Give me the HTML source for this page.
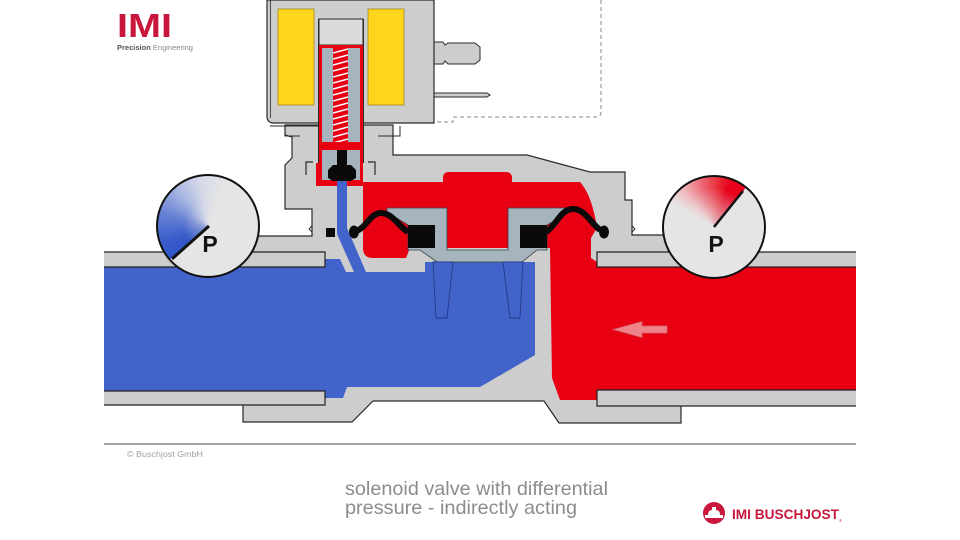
<!DOCTYPE html>
<html><head><meta charset="utf-8">
<style>
html,body{margin:0;padding:0;background:#fff;}
#wrap{position:relative;width:960px;height:540px;overflow:hidden;background:#fff;}
svg{display:block;position:absolute;left:0;top:0;}
.g{position:absolute;box-sizing:border-box;width:104px;height:104px;border:2.5px solid #111;border-radius:50%;}
#gl{left:156px;top:174px;background:radial-gradient(circle at 50% 50%, rgba(229,229,229,0.55) 0%, rgba(229,229,229,0) 35%),conic-gradient(from 180deg, #e5e5e5 0deg, #e5e5e5 49deg, #2f55c8 49deg, #3a5dcb 70deg, #6680d3 105deg, #a9b7e2 140deg, #d5d9e8 170deg, #e5e5e5 200deg, #e5e5e5 360deg);}
#gr{left:662px;top:175px;background:radial-gradient(circle at 50% 50%, rgba(229,229,229,0.85) 0%, rgba(229,229,229,0) 55%),conic-gradient(from 180deg, #e5e5e5 0deg, #e5e5e5 120deg, #f0bcc0 140deg, #ec6672 165deg, #e8202e 190deg, #e8001c 200deg, #e8001c 219deg, #e5e5e5 219deg, #e5e5e5 360deg);}
</style></head><body>
<div id="wrap">
<svg width="960" height="540" viewBox="0 0 960 540" xmlns="http://www.w3.org/2000/svg">
<defs>
<pattern id="sp" x="333" y="48" width="15" height="6" patternUnits="userSpaceOnUse">
<rect width="15" height="6" fill="#e80012"/>
<path d="M0,5 L15,1" stroke="#fff" stroke-width="1.5"/>
</pattern>
</defs>

<!-- dashed outline -->
<path d="M601,0 V112 Q601,117 596,117 H453 V122 H393" fill="none" stroke="#8a8a8a" stroke-width="1" stroke-dasharray="4,3"/>

<!-- connector -->
<path d="M434,42 H443 L445,45 L448,43 H475 L480,47 V60 L475,64 H448 L445,61 L443,64 H434 Z" fill="#cdcdcd" stroke="#2a2a2a" stroke-width="1"/>
<path d="M434,93 H487 L490,95 L487,97 H434 Z" fill="#cdcdcd" stroke="#2a2a2a" stroke-width="1"/>

<!-- coil housing -->
<path d="M267,0 H434 V123 H274 Q267,123 267,116 Z" fill="#cdcdcd" stroke="#2a2a2a" stroke-width="1.2"/>
<line x1="270.5" y1="0" x2="270.5" y2="118" stroke="#2a2a2a" stroke-width="0.8"/>

<!-- valve body -->
<path d="M285,125 H393 V155 H527 L590,172 H625 V200 H632 V235 H681 V423 H559 L544,401 H373 L352,422 H243 V236 H312 V209 H285 V165 L292,158 V137 L285,135 Z" fill="#cdcdcd" stroke="#2a2a2a" stroke-width="1.2"/>
<path d="M270,126 H320 M285,126 V136 H300 M378,136 H400 V126" fill="none" stroke="#2a2a2a" stroke-width="1"/>
<path d="M632,226 L635,229 L632,232" fill="none" stroke="#2a2a2a" stroke-width="1"/>
<path d="M312,226 L309,229 L312,232" fill="none" stroke="#2a2a2a" stroke-width="1"/>

<!-- yellow coils -->
<rect x="278" y="9" width="36" height="96" fill="#ffd51c" stroke="#a08a20" stroke-width="0.8"/>
<rect x="368" y="9" width="36" height="96" fill="#ffd51c" stroke="#a08a20" stroke-width="0.8"/>

<!-- plunger tube -->
<rect x="319" y="19" width="44" height="26" fill="#dadada" stroke="#2a2a2a" stroke-width="1"/>
<rect x="319" y="45" width="44" height="120" fill="#e80012"/>
<rect x="316" y="163" width="47" height="23" fill="#e80012"/>
<rect x="322" y="48" width="38" height="94" fill="#a6b4bd"/>
<rect x="322" y="150" width="38" height="30" fill="#a6b4bd"/>
<rect x="333" y="48" width="15" height="100" fill="url(#sp)"/>
<rect x="322" y="142" width="38" height="8" fill="#e80012"/>
<line x1="318.5" y1="19" x2="318.5" y2="163" stroke="#2a2a2a" stroke-width="1"/>
<line x1="363.5" y1="19" x2="363.5" y2="163" stroke="#2a2a2a" stroke-width="1"/>
<path d="M306,175 V162 H313 M375,175 V162 H368" fill="none" stroke="#2a2a2a" stroke-width="1.2"/>

<!-- red high pressure region -->
<path d="M363,182 H443 V178 Q443,172 449,172 H506 Q512,172 512,178 V182 H580 Q592,195 597,228 L591,238 V258 L597,262 V267 H856 V390 H597 V400 H560 L552,378 L550,248 H410 L406,258 H373 Q363,258 363,248 Z" fill="#e80012"/>

<!-- blue low pressure region -->
<path d="M104,267 H325 V259 H340 L346,272 H425 V262 H535 V355 L480,387 H347 L343,398 H325 V391 H104 Z" fill="#4263c9"/>
<path d="M337,181 H347 V228 L366,272 H354 L337,234 Z" fill="#4263c9"/>

<!-- piston -->
<path d="M387,208 H447 V250 H508 V208 H570 V212 L547,225 V250 H537 L522,262 H437 L420,250 H408 V225 L387,212 Z" fill="#a6b4bd" stroke="#3a4248" stroke-width="0.8"/>
<rect x="408" y="225" width="27" height="23" fill="#0a0a0a"/>
<rect x="520" y="225" width="27" height="23" fill="#0a0a0a"/>

<!-- diaphragm -->
<path d="M408,232 C398,226 392,212 380,213 C370,214 366,228 356,231" fill="none" stroke="#0a0a0a" stroke-width="6"/>
<ellipse cx="354" cy="232" rx="5" ry="6.5" fill="#0a0a0a"/>
<path d="M546,232 C556,226 560,210 572,209 C584,208 590,222 600,230" fill="none" stroke="#0a0a0a" stroke-width="6"/>
<ellipse cx="604" cy="232" rx="5" ry="6.5" fill="#0a0a0a"/>
<rect x="326" y="228" width="9" height="9" fill="#0a0a0a"/>

<!-- guide fingers -->
<path d="M433,262 H453 L447,318 H436 Z" fill="#4263c9" stroke="#24388a" stroke-width="0.9"/>
<path d="M503,262 H523 L520,318 H510 Z" fill="#4263c9" stroke="#24388a" stroke-width="0.9"/>

<!-- nozzle -->
<rect x="337" y="150" width="10" height="17" fill="#0a0a0a"/>
<path d="M328,170 L333,165 H351 L356,170 V178 L351,181 H333 L328,178 Z" fill="#0a0a0a"/>

<!-- pipe walls -->
<rect x="104" y="252" width="221" height="15" fill="#cdcdcd"/>
<path d="M104,252 H325 V267 H104" fill="none" stroke="#222" stroke-width="1.2"/>
<rect x="104" y="391" width="221" height="14" fill="#cdcdcd"/>
<path d="M104,391 H325 V405 H104" fill="none" stroke="#222" stroke-width="1.2"/>
<rect x="597" y="252" width="259" height="15" fill="#cdcdcd"/>
<path d="M856,252 H597 V267 H856" fill="none" stroke="#222" stroke-width="1.2"/>
<rect x="597" y="390" width="259" height="16" fill="#cdcdcd"/>
<path d="M856,390 H597 V406 H856" fill="none" stroke="#222" stroke-width="1.2"/>

<!-- flow arrow -->
<polygon points="613,329.5 642,321.5 642,326 667,326 667,333 642,333 642,337.5" fill="#f08289" stroke="#d2616a" stroke-width="0.8"/>

<!-- bottom line -->
<line x1="104" y1="444" x2="856" y2="444" stroke="#a3a3a3" stroke-width="2"/>

<!-- texts -->
<text x="117" y="37" font-family="Liberation Sans, sans-serif" font-weight="bold" font-size="33" fill="#c8163c" textLength="55" lengthAdjust="spacingAndGlyphs">IMI</text>
<text x="117" y="50" font-family="Liberation Sans, sans-serif" font-size="7.6" fill="#888" textLength="76" lengthAdjust="spacingAndGlyphs"><tspan fill="#555" font-weight="bold">Precision</tspan> Engineering</text>
<text x="127" y="457" font-family="Liberation Sans, sans-serif" font-size="8.5" fill="#a0a0a0" textLength="76" lengthAdjust="spacingAndGlyphs">© Buschjost GmbH</text>
<text x="345" y="495" font-family="Liberation Sans, sans-serif" font-size="19.5" fill="#8c8c8c" textLength="263" lengthAdjust="spacingAndGlyphs">solenoid valve with differential</text>
<text x="345" y="514" font-family="Liberation Sans, sans-serif" font-size="19.5" fill="#8c8c8c" textLength="232" lengthAdjust="spacingAndGlyphs">pressure - indirectly acting</text>

<!-- IMI Buschjost logo -->
<circle cx="714" cy="513" r="11" fill="#c8163c"/>
<path d="M705,515 H723 V518 H705 Z M708,515 Q708,510 712,510 V507 H716 V510 Q720,510 720,515 Z" fill="#fff"/>
<text x="732" y="519" font-family="Liberation Sans, sans-serif" font-weight="bold" font-size="14" fill="#c8163c" textLength="107" lengthAdjust="spacingAndGlyphs">IMI BUSCHJOST</text>
<text x="839" y="522" font-family="Liberation Sans, sans-serif" font-size="4" fill="#c8163c">®</text>
</svg>

<div class="g" id="gl"></div>
<div class="g" id="gr"></div>

<svg width="960" height="540" viewBox="0 0 960 540" xmlns="http://www.w3.org/2000/svg" style="pointer-events:none">
<line x1="209" y1="226" x2="172" y2="259" stroke="#111" stroke-width="3"/>
<text x="210" y="252" text-anchor="middle" font-family="Liberation Sans, sans-serif" font-weight="bold" font-size="23" fill="#111">P</text>
<line x1="714" y1="227" x2="743" y2="191" stroke="#111" stroke-width="2.5"/>
<text x="716" y="252" text-anchor="middle" font-family="Liberation Sans, sans-serif" font-weight="bold" font-size="23" fill="#111">P</text>
</svg>
</div>
</body></html>
